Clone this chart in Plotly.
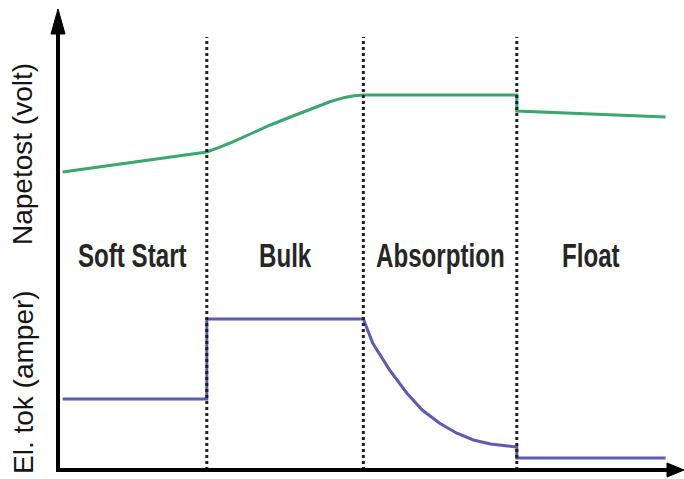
import plotly.graph_objects as go

# ---------------- data ----------------
stage_names = ["Soft Start", "Bulk", "Absorption", "Float"]
stage_bounds = [0.0, 0.96, 1.97, 2.96, 3.92]   # time (arb. units) of stage boundaries

volt_t = [0.03, 0.96, 1.04, 1.11, 1.24, 1.37, 1.50, 1.63, 1.75, 1.80, 1.85, 1.91, 1.97, 2.96, 2.96, 3.92]
volt_v = [10.55, 11.55, 11.78, 12.0, 12.45, 12.9, 13.3, 13.7, 14.05, 14.17, 14.28, 14.36, 14.4, 14.4, 13.6, 13.3]

amp_t = [0.03, 0.96, 0.96, 1.97, 2.03, 2.14, 2.25, 2.35, 2.46, 2.57, 2.68, 2.79, 2.96, 2.96, 3.92]
amp_i = [4.7, 4.7, 10.0, 10.0, 8.41, 6.62, 5.10, 3.97, 3.11, 2.45, 1.99, 1.72, 1.52, 0.8, 0.8]

y_label_top = "Napetost (volt)"
y_label_bottom = "El. tok (amper)"

# ---------------- layout geometry ----------------
W, H = 684, 479
ML, MT, MB, MR = 58, 8, 9, 0
PW, PH = W - ML - MR, H - MT - MB
X_RANGE = [0, PW / 155.0]
V_RANGE = [-4.35, 18.75]
I_RANGE = [0, 30.6]

def px(p):
    return (p - ML) / PW

def py(p):
    return (H - MB - p) / PH

GREEN = "rgb(58,168,108)"
BLUE = "rgb(92,92,180)"

fig = go.Figure()
fig.add_trace(go.Scatter(x=volt_t, y=volt_v, mode="lines",
                         line=dict(color=GREEN, width=3), yaxis="y", hoverinfo="skip"))
fig.add_trace(go.Scatter(x=amp_t, y=amp_i, mode="lines",
                         line=dict(color=BLUE, width=3), yaxis="y2", hoverinfo="skip"))

shapes = []
# dotted stage separators
for b in stage_bounds[1:-1]:
    shapes.append(dict(type="line", xref="x", yref="paper", x0=b, x1=b,
                       y0=0, y1=py(37), line=dict(color="#202020", width=3, dash="dot")))
# axes
shapes.append(dict(type="line", xref="paper", yref="paper", x0=0, x1=0,
                   y0=py(472), y1=py(30), line=dict(color="black", width=4)))
shapes.append(dict(type="line", xref="paper", yref="paper", x0=px(56), x1=px(672),
                   y0=0, y1=0, line=dict(color="black", width=4)))
# arrowheads
shapes.append(dict(type="path", xref="paper", yref="paper",
                   path=f"M {px(58)} {py(9)} L {px(51)} {py(34)} L {px(65)} {py(34)} Z",
                   fillcolor="black", line=dict(color="black", width=1)))
shapes.append(dict(type="path", xref="paper", yref="paper",
                   path=f"M {px(684)} {py(470)} L {px(667)} {py(463)} L {px(667)} {py(477)} Z",
                   fillcolor="black", line=dict(color="black", width=1)))

annotations = []
for i, name in enumerate(stage_names):
    mid = (stage_bounds[i] + stage_bounds[i + 1]) / 2
    annotations.append(dict(x=mid, y=py(255), xref="x", yref="paper", text=name,
                            showarrow=False, xanchor="center", yanchor="middle",
                            font=dict(family="Liberation Sans Narrow, Liberation Sans, sans-serif",
                                      size=34, color="#262626", weight="bold")))
annotations.append(dict(x=px(23), y=py(154), xref="paper", yref="paper", text=y_label_top,
                        showarrow=False, textangle=-90, xanchor="center", yanchor="middle",
                        font=dict(family="Liberation Sans, Arial, sans-serif", size=28, color="#151515")))
annotations.append(dict(x=px(23), y=py(382), xref="paper", yref="paper", text=y_label_bottom,
                        showarrow=False, textangle=-90, xanchor="center", yanchor="middle",
                        font=dict(family="Liberation Sans, Arial, sans-serif", size=28, color="#151515")))

fig.update_layout(
    width=W, height=H,
    margin=dict(l=ML, r=MR, t=MT, b=MB, pad=0),
    paper_bgcolor="white", plot_bgcolor="white",
    showlegend=False,
    xaxis=dict(range=X_RANGE, visible=False, fixedrange=True),
    yaxis=dict(range=V_RANGE, visible=False, fixedrange=True),
    yaxis2=dict(range=I_RANGE, visible=False, overlaying="y", fixedrange=True),
    shapes=shapes,
    annotations=annotations,
)

fig.write_html("out.html", config={"displayModeBar": False})

# remove the default page margin and condense the stage-label font horizontally
css = ("<style>body{margin:0;overflow:hidden}"
       "text[style*=\"Narrow\"]{transform:scaleX(0.71);transform-box:fill-box;"
       "transform-origin:center;}</style>")
with open("out.html", "r", encoding="utf-8") as f:
    html = f.read()
html = html.replace("</head>", css + "</head>", 1)
with open("out.html", "w", encoding="utf-8") as f:
    f.write(html)
